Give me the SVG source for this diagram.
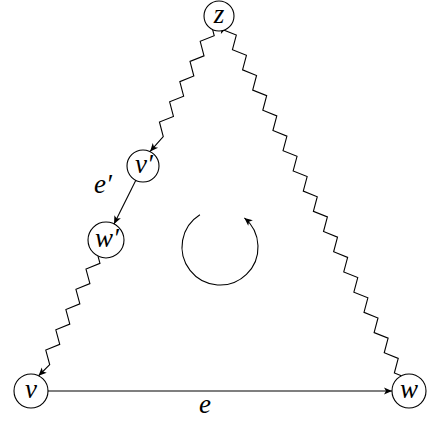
<svg xmlns="http://www.w3.org/2000/svg" width="431" height="423" viewBox="0 0 431 423">
<style>
.nd{fill:#fff;stroke:#000;stroke-width:1.1}
.t{font-family:'Liberation Serif','Times New Roman',serif;font-style:italic;font-size:27px;text-anchor:middle;fill:#000}
.ln{fill:none;stroke:#000;stroke-width:1.1;marker-end:url(#ah)}
</style>
<defs>
<marker id="ah" viewBox="-9 -5 10 10" refX="0" refY="0" markerWidth="10" markerHeight="10" orient="auto" markerUnits="userSpaceOnUse">
<path d="M0,0 L-8,-3.6 L-6,0 L-8,3.6 z" fill="#000"/>
</marker>
</defs>
<g id="connectors">
<path id="e" class="ln" d="M48,391 L392,391"/>
<path id="wz" class="ln" transform="translate(401.35,375.8) rotate(-116.6)" d="M0,0 l5.65,-5 l11.3,10 l11.3,-10 l11.3,10 l11.3,-10 l11.3,10 l11.3,-10 l11.3,10 l11.3,-10 l11.3,10 l11.3,-10 l11.3,10 l11.3,-10 l11.3,10 l11.3,-10 l11.3,10 l11.3,-10 l11.3,10 l11.3,-10 l11.3,10 l11.3,-10 l11.3,10 l11.3,-10 l11.3,10 l11.3,-10 l11.3,10 l11.3,-10 l11.3,10 l11.3,-10 l11.3,10 l11.3,-10 l11.3,10 l11.3,-10 l11.3,10 l11.3,-10 L389.4,0"/>
<path id="zv1" class="ln" transform="translate(212.3,28.4) rotate(116.8)" d="M0,0 l5.65,-5 l11.3,10 l11.3,-10 l11.3,10 l11.3,-10 l11.3,10 l11.3,-10 l11.3,10 l11.3,-10 l11.3,10 l11.3,-10 L137.9,0"/>
<path id="v1w1" class="ln" d="M135.84,180.31 L114.05,223.9"/>
<path id="w1v" class="ln" transform="translate(98,256.1) rotate(116.41)" d="M0,0 l5.65,-5 l11.3,10 l11.3,-10 l11.3,10 l11.3,-10 l11.3,10 l11.3,-10 l11.3,10 l11.3,-10 l11.3,10 l11.3,-10 L133.6,0"/>
<path id="cycle" class="ln" d="M199.9,214.8 A38,38 0 1 0 244.4,217.9"/>
<text class="t" x="205" y="413">e</text>
<text class="t" x="103" y="193">e′</text>
</g>
<g id="node-z"><circle class="nd" cx="219" cy="16" r="15"/><text class="t" x="219" y="23">z</text></g>
<g id="node-v1"><circle class="nd" cx="143" cy="166" r="16"/><text class="t" x="144" y="173">v′</text></g>
<g id="node-w1"><circle class="nd" cx="106" cy="240" r="18"/><text class="t" x="107" y="247">w′</text></g>
<g id="node-v"><circle class="nd" cx="31" cy="391" r="17"/><text class="t" x="31" y="398">v</text></g>
<g id="node-w"><circle class="nd" cx="409" cy="391" r="17"/><text class="t" x="409" y="398">w</text></g>
</svg>
